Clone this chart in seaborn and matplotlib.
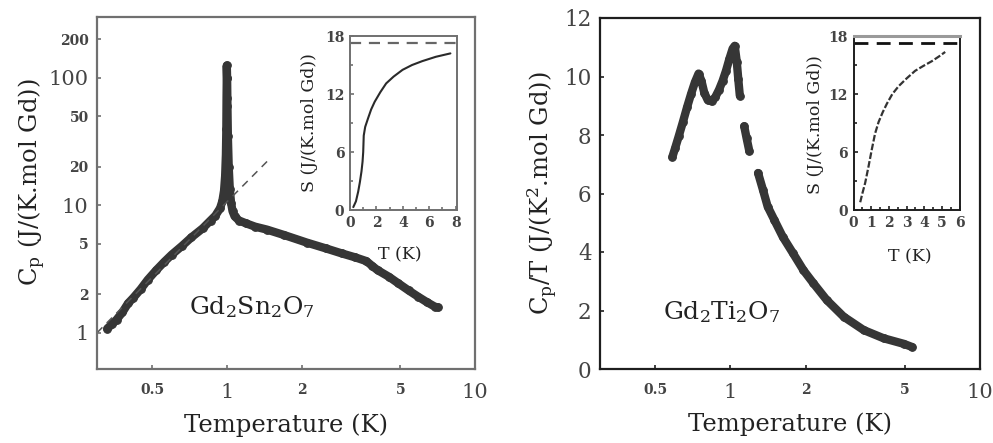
import matplotlib
matplotlib.use("Agg")
import matplotlib.pyplot as plt
from matplotlib.ticker import NullLocator, MultipleLocator
import pandas as pd
import seaborn as sns

# ---------------- data ----------------
# Gd2Sn2O7 specific heat, traced along the measured band (K, J/(K mol Gd))
sn_T = [0.33, 0.345, 0.36, 0.38, 0.40, 0.42, 0.45, 0.48, 0.52, 0.56, 0.60, 0.66,
        0.72, 0.80, 0.86, 0.90, 0.94, 0.96, 0.975, 0.985, 0.992, 0.996, 0.998,
        1.0, 1.0, 1.003, 1.006, 1.01, 1.018, 1.028, 1.04, 1.055, 1.075, 1.12,
        1.2, 1.3, 1.45, 1.7, 2.1, 2.5, 2.9, 3.3, 3.65, 3.85, 4.05, 4.5, 4.9,
        5.4, 5.9, 6.4, 6.9, 7.1]
sn_Cp = [1.08, 1.17, 1.27, 1.45, 1.70, 1.88, 2.2, 2.6, 3.1, 3.6, 4.1, 4.8,
         5.6, 6.6, 7.6, 8.3, 9.5, 10.8, 13.0, 17.0, 25.0, 40.0, 70.0,
         100.0, 125.0, 100.0, 60.0, 35.0, 20.0, 13.5, 10.5, 9.0, 8.2, 7.6,
         7.2, 6.8, 6.45, 5.85, 5.1, 4.6, 4.2, 3.9, 3.65, 3.35, 3.1, 2.75, 2.45,
         2.15, 1.92, 1.74, 1.6, 1.58]

# T^2 guide line end points
fit_T = [0.3, 1.5]
fit_Cp = [1.0, 23.5]

# Gd2Ti2O7 Cp/T, three measured runs
ti_T = [0.585, 0.60, 0.62, 0.645, 0.67, 0.695, 0.72, 0.745, 0.765, 0.785, 0.81,
        0.84, 0.87, 0.90, 0.93, 0.96, 0.99, 1.02, 1.04, 1.06, 1.075, 1.09,
        1.135, 1.16, 1.19,
        1.29, 1.35, 1.41, 1.50, 1.62, 1.78, 1.96, 2.15, 2.43, 2.84, 3.42, 4.11,
        4.95, 5.35]
ti_CpT = [7.25, 7.55, 7.95, 8.45, 8.95, 9.4, 9.8, 10.1, 9.85, 9.45, 9.2,
          9.15, 9.3, 9.55, 9.85, 10.2, 10.6, 10.95, 11.05, 10.5, 9.9, 9.35,
          8.3, 7.9, 7.45,
          6.7, 6.12, 5.55, 5.09, 4.52, 3.96, 3.38, 2.93, 2.36, 1.79, 1.33, 1.05,
          0.86, 0.75]
ti_run = [1] * 22 + [2] * 3 + [3] * 14

# entropy curves (insets)
sn_S_T = [0.25, 0.45, 0.62, 0.75, 0.87, 0.95, 1.0, 1.04, 1.15, 1.37, 1.6, 1.87,
          2.3, 2.74, 3.3, 3.98, 4.7, 5.47, 6.5, 7.6]
sn_S = [0.3, 0.9, 1.9, 2.9, 4.0, 5.0, 6.0, 7.7, 8.6, 9.5, 10.4, 11.2,
        12.2, 13.1, 13.8, 14.5, 15.0, 15.4, 15.85, 16.2]
ti_S_T = [0.38, 0.5, 0.66, 0.85, 1.04, 1.22, 1.42, 1.65, 1.89, 2.2, 2.55, 3.0,
          3.49, 3.95, 4.44, 4.85, 5.19]
ti_S = [0.8, 1.7, 2.8, 4.5, 6.3, 7.9, 9.1, 10.1, 11.0, 12.0, 12.8, 13.6,
        14.4, 14.9, 15.4, 15.9, 16.35]
S_max = 17.3  # R ln 8

log_ticks_x = [0.5, 1, 2, 5, 10]
log_ticks_y = [1, 2, 5, 10, 20, 50, 100, 200]
decades = [1, 10, 100]

# ---------------- style ----------------
sns.set_theme(style="ticks")
plt.rcParams["font.family"] = ["DejaVu Serif"]
plt.rcParams["mathtext.fontset"] = "dejavuserif"
plt.rcParams["text.color"] = "#222222"
plt.rcParams["axes.labelcolor"] = "#222222"
plt.rcParams["xtick.color"] = "#444444"
plt.rcParams["ytick.color"] = "#444444"

BAND = "#363636"

fig = plt.figure(figsize=(9.93, 4.43), dpi=100)
axL = fig.add_axes([97 / 993, 1 - 369 / 443, 378 / 993, 352 / 443])
axR = fig.add_axes([600 / 993, 1 - 369 / 443, 380 / 993, 351 / 443])
insL = fig.add_axes([350 / 993, 1 - 210 / 443, 107 / 993, 174 / 443])
insR = fig.add_axes([853.5 / 993, 1 - 210 / 443, 106 / 993, 174 / 443])


def style_frame(ax, color, lw):
    for s in ax.spines.values():
        s.set_color(color)
        s.set_linewidth(lw)
        s.set_visible(True)
    ax.tick_params(which="both", direction="in", length=3, width=1.2,
                   color=color, top=False, right=False)


def log_xticks(ax):
    ax.set_xscale("log")
    ax.set_xlim(0.3, 10)
    ax.set_xticks(log_ticks_x, labels=[f"{v:g}" for v in log_ticks_x])
    ax.xaxis.set_minor_locator(NullLocator())
    for lbl, v in zip(ax.get_xticklabels(), log_ticks_x):
        if v in decades:
            lbl.set_fontsize(15)
        else:
            lbl.set_fontsize(10)
            lbl.set_fontweight("bold")
    ax.tick_params(axis="x", pad=10)


# ---------------- left panel: Gd2Sn2O7 ----------------
style_frame(axL, "#707070", 1.6)
sn_df = pd.DataFrame({"T": sn_T, "Cp": sn_Cp})
sns.lineplot(data=sn_df, x="T", y="Cp", sort=False, estimator=None, ax=axL,
             color=BAND, lw=6, marker="o", markersize=5.5, mec=BAND,
             solid_capstyle="round", solid_joinstyle="round")
sns.lineplot(x=fit_T, y=fit_Cp, ax=axL, color="#555555", lw=1.1,
             estimator=None, sort=False)
axL.lines[-1].set_linestyle((0, (5, 4)))
log_xticks(axL)
axL.set_yscale("log")
axL.set_ylim(0.52, 300)
axL.set_yticks(log_ticks_y, labels=[f"{v:g}" for v in log_ticks_y])
axL.yaxis.set_minor_locator(NullLocator())
for lbl, v in zip(axL.get_yticklabels(), log_ticks_y):
    if v in decades:
        lbl.set_fontsize(15)
    else:
        lbl.set_fontsize(10)
        lbl.set_fontweight("bold")
axL.tick_params(axis="y", pad=6)
axL.set_xlabel("Temperature (K)", fontsize=17.5)
axL.set_ylabel(r"C$_\mathrm{p}$ (J/(K.mol Gd))", fontsize=17.5)
axL.xaxis.set_label_coords(0.5, -0.125)
axL.yaxis.set_label_coords(-0.13, 0.53)
axL.text(0.41, 0.175, r"Gd$_2$Sn$_2$O$_7$", transform=axL.transAxes,
         fontsize=18, ha="center", va="center")

# ---------------- right panel: Gd2Ti2O7 ----------------
style_frame(axR, "#1e1e1e", 1.6)
ti_df = pd.DataFrame({"T": ti_T, "CpT": ti_CpT, "run": ti_run})
sns.lineplot(data=ti_df, x="T", y="CpT", units="run", sort=False,
             estimator=None, ax=axR, color=BAND, lw=6, marker="o",
             markersize=5.5, mec=BAND, solid_capstyle="round",
             solid_joinstyle="round")
log_xticks(axR)
axR.set_ylim(0, 12)
axR.set_yticks(range(0, 13, 2))
axR.yaxis.set_minor_locator(NullLocator())
axR.tick_params(axis="y", labelsize=15.5, pad=6)
axR.set_xlabel("Temperature (K)", fontsize=17.5)
axR.set_ylabel(r"C$_\mathrm{p}$/T (J/(K$^2$.mol Gd))", fontsize=17.5)
axR.xaxis.set_label_coords(0.5, -0.125)
axR.yaxis.set_label_coords(-0.105, 0.5)
axR.text(0.32, 0.163, r"Gd$_2$Ti$_2$O$_7$", transform=axR.transAxes,
         fontsize=18, ha="center", va="center")

# ---------------- insets: entropy ----------------
def style_inset(ax, xmax, xmajor, frame):
    style_frame(ax, frame, 1.4)
    ax.set_xlim(0, xmax)
    ax.set_ylim(0, 18)
    ax.xaxis.set_major_locator(MultipleLocator(xmajor))
    ax.xaxis.set_minor_locator(MultipleLocator(1 if xmajor == 2 else 0.5))
    ax.yaxis.set_major_locator(MultipleLocator(6))
    ax.yaxis.set_minor_locator(MultipleLocator(3))
    ax.tick_params(which="major", length=3)
    ax.tick_params(which="minor", length=2)
    ax.tick_params(labelsize=10, pad=4)
    for lbl in ax.get_xticklabels() + ax.get_yticklabels():
        lbl.set_fontweight("bold")
    ax.set_xlabel("T (K)", fontsize=12.5)
    ax.set_ylabel("S (J/(K.mol Gd))", fontsize=12.5)


style_inset(insL, 8.1, 2, "#707070")
sns.lineplot(x=sn_S_T, y=sn_S, ax=insL, color="#2a2a2a", lw=1.5,
             estimator=None, sort=False)
insL.axhline(S_max, color="#666666", lw=1.6, ls=(0, (5, 3.5)))
insL.xaxis.set_label_coords(0.47, -0.21)
insL.yaxis.set_label_coords(-0.3, 0.5)

style_inset(insR, 6.0, 1, "#1e1e1e")
insR.spines["top"].set_color("#9a9a9a")
insR.spines["top"].set_linewidth(2.2)
sns.lineplot(x=ti_S_T, y=ti_S, ax=insR, color="#333333", lw=1.6,
             estimator=None, sort=False)
insR.lines[-1].set_linestyle((0, (3, 1)))
insR.axhline(S_max, color="#111111", lw=2.0, ls=(0, (5, 3)))
insR.xaxis.set_label_coords(0.53, -0.22)
insR.yaxis.set_label_coords(-0.28, 0.49)

for ax in (axL, axR, insL, insR):
    leg = ax.get_legend()
    if leg is not None:
        leg.remove()

fig.savefig("out.png", dpi=100, facecolor="white")
